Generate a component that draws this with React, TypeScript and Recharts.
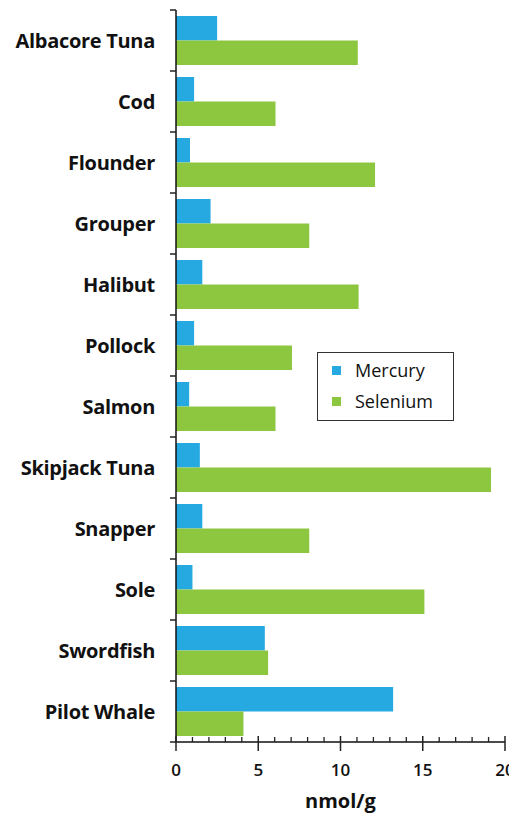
import { BarChart, Bar, XAxis, YAxis } from 'recharts'

const categories = [
  'Albacore Tuna', 'Cod', 'Flounder', 'Grouper', 'Halibut', 'Pollock',
  'Salmon', 'Skipjack Tuna', 'Snapper', 'Sole', 'Swordfish', 'Pilot Whale',
]
const mercury = [2.5, 1.1, 0.85, 2.1, 1.6, 1.1, 0.8, 1.45, 1.6, 1.0, 5.4, 13.2]
const selenium = [11.05, 6.05, 12.1, 8.1, 11.1, 7.05, 6.05, 19.15, 8.1, 15.1, 5.6, 4.1]
const xTicks = [0, 1, 2, 3, 4, 5, 6, 7, 8, 9, 10, 11, 12, 13, 14, 15, 16, 17, 18, 19, 20]

const MERCURY = '#25a9e0'
const SELENIUM = '#8dc63f'
const FONT = '"Open Sans", sans-serif'

const data = categories.map((name, i) => ({ name, mercury: mercury[i], selenium: selenium[i] }))

const BAND = 61

function CategoryTick(props: { x?: number; y?: number; payload?: { value: string }; index?: number }) {
  const { x = 0, y = 0, payload, index = 0 } = props
  return (
    <g>
      <line x1={x - 6} x2={x} y1={y - BAND / 2} y2={y - BAND / 2} stroke="#222" strokeWidth={1.5} />
      {index === categories.length - 1 && (
        <line x1={x - 6} x2={x} y1={y + BAND / 2} y2={y + BAND / 2} stroke="#222" strokeWidth={1.5} />
      )}
      <text x={x - 21} y={y} dy={7} textAnchor="end" fontFamily={FONT} fontWeight={700}
        fontSize={20} fill="#111" letterSpacing={-0.3}>
        {payload?.value}
      </text>
    </g>
  )
}

function ValueTick(props: { x?: number; y?: number; payload?: { value: number } }) {
  const { x = 0, y = 0, payload } = props
  const v = payload?.value ?? 0
  const major = v % 5 === 0
  return (
    <g>
      {major
        ? <line x1={x} x2={x} y1={y - 6} y2={y + 9} stroke="#222" strokeWidth={1.5} />
        : <line x1={x} x2={x} y1={y - 5} y2={y} stroke="#222" strokeWidth={1.3} />}
      {major && (
        <text x={x} y={y + 34} textAnchor="middle" fontFamily={FONT} fontWeight={600}
          fontSize={17} fill="#111">
          {v}
        </text>
      )}
    </g>
  )
}

// legend drawn as an overlay so it doesn't eat into the plot area
function LegendBox() {
  const items = [
    { label: 'Mercury', color: MERCURY },
    { label: 'Selenium', color: SELENIUM },
  ]
  return (
    <div style={{
      position: 'absolute', left: 317, top: 352, width: 135, height: 67,
      border: '1.5px solid #333', background: '#fff',
      fontFamily: FONT, fontSize: 18, color: '#111',
    }}>
      {items.map((it, i) => (
        <div key={it.label} style={{
          position: 'absolute', left: 14, top: 4 + i * 31, display: 'flex', alignItems: 'center',
          lineHeight: '26px',
        }}>
          <span style={{ width: 9, height: 9, background: it.color, display: 'inline-block', marginRight: 14 }} />
          <span>{it.label}</span>
        </div>
      ))}
    </div>
  )
}

export default function App() {
  return (
    <div style={{ position: 'absolute', left: 0, top: 0, width: 509, height: 818, background: '#fff' }}>
      <BarChart width={509} height={818} data={data} layout="vertical" barGap={0} barSize={24.5}
        margin={{ top: 10, right: 4, left: 0, bottom: 0 }}>
        <XAxis type="number" domain={[0, 20]} ticks={xTicks} interval={0} height={76}
          tickSize={0} tickMargin={0} tick={<ValueTick />}
          axisLine={{ stroke: '#111', strokeWidth: 1.5 }} tickLine={false}
          label={{ value: 'nmol/g', position: 'insideBottom', offset: 10, fontFamily: FONT,
            fontWeight: 700, fontSize: 20, fill: '#111' }} />
        <XAxis xAxisId="top" orientation="top" type="number" domain={[0, 20]} height={0}
          tick={false} tickLine={false} axisLine={{ stroke: '#888', strokeWidth: 1.5 }} />
        <YAxis type="category" dataKey="name" width={176} interval={0}
          tickSize={0} tickMargin={0} tick={<CategoryTick />} tickLine={false}
          axisLine={{ stroke: '#111', strokeWidth: 1.5 }} />
        <YAxis yAxisId="right" orientation="right" type="category" dataKey="name" width={0}
          tick={false} tickLine={false} axisLine={{ stroke: '#888', strokeWidth: 1.5 }} />
        <Bar dataKey="mercury" name="Mercury" fill={MERCURY} isAnimationActive={false} />
        <Bar dataKey="selenium" name="Selenium" fill={SELENIUM} isAnimationActive={false} />
      </BarChart>
      <LegendBox />
    </div>
  )
}
